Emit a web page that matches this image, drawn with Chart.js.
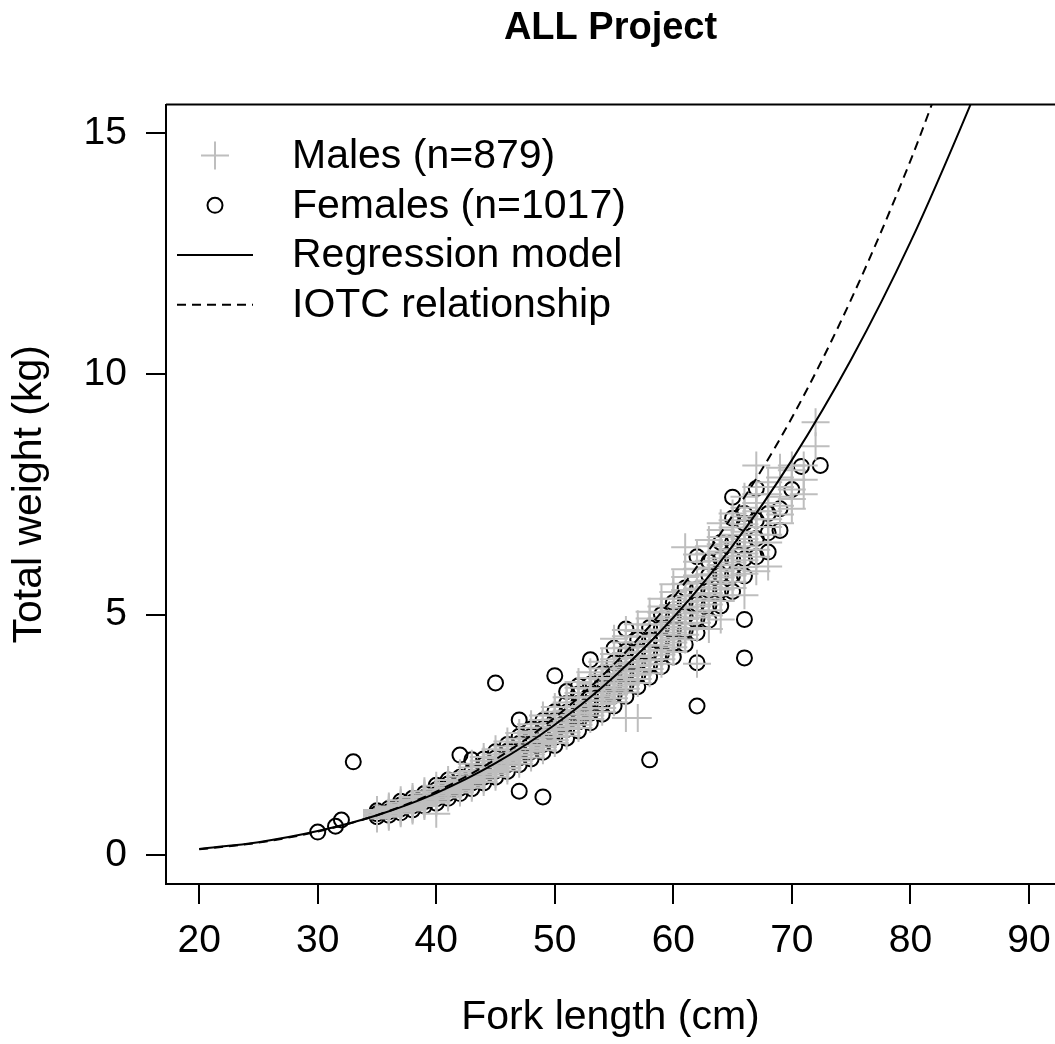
<!DOCTYPE html>
<html>
<head>
<meta charset="utf-8">
<script src="https://cdn.jsdelivr.net/npm/chart.js@4.4.1/dist/chart.umd.min.js"></script>
<style>
  html, body { margin: 0; padding: 0; background: #fff; overflow: hidden; }
  canvas { display: block; }
</style>
</head>
<body>
<canvas id="lwChart" width="1055" height="1044"></canvas>
<script>
// values
const xTicks = [20, 30, 40, 50, 60, 70, 80, 90];
const yTicks = [0, 5, 10, 15];

const legendLabels = ["Males (n=879)", "Females (n=1017)", "Regression model", "IOTC relationship"];

// regression curve (fork length cm, weight kg)
const regLen = [20, 25, 30, 35, 40, 45, 50, 55, 60, 65, 70, 75, 80, 85, 86];
const regWt = [0.13, 0.27, 0.50, 0.83, 1.29, 1.91, 2.71, 3.71, 4.94, 6.43, 8.21, 10.30, 12.74, 15.56, 16.17];

// IOTC curve
const iotcLen = [20, 25, 30, 35, 40, 45, 50, 55, 60, 65, 70, 75, 80, 83];
const iotcWt = [0.12, 0.26, 0.49, 0.83, 1.32, 1.99, 2.86, 3.97, 5.35, 7.06, 9.09, 11.55, 14.43, 16.40];

// males: one row of weights (kg) per fork length (cm)
const maleLen = [35, 36, 37, 38, 39, 40, 41, 42, 43, 44, 45, 46, 47, 48, 49, 50, 51, 52, 53, 54,
                 55, 56, 57, 58, 59, 60, 61, 62, 63, 64, 65, 66, 67, 68, 69, 70, 71, 72];
const maleWt = [
  [0.76,0.79,0.82,0.85,0.88,0.91,0.94],
  [0.80,0.83,0.86,0.89,0.92,0.95,0.98,1.01],
  [0.87,0.90,0.93,0.96,0.99,1.02,1.05,1.09,1.14],
  [0.93,0.96,0.99,1.02,1.05,1.08,1.12,1.16,1.21],
  [1.02,1.05,1.08,1.12,1.16,1.20,1.24,1.28,1.33],
  [0.86,1.09,1.12,1.16,1.20,1.24,1.28,1.32,1.37,1.44],
  [1.20,1.24,1.28,1.32,1.36,1.40,1.45,1.50,1.56],
  [1.30,1.34,1.38,1.42,1.47,1.52,1.57,1.63,1.70],
  [1.40,1.44,1.49,1.54,1.59,1.64,1.69,1.75,1.82,1.90],
  [1.52,1.57,1.62,1.67,1.72,1.77,1.83,1.89,1.96,2.04],
  [1.63,1.68,1.73,1.78,1.84,1.90,1.96,2.02,2.09,2.20],
  [1.76,1.81,1.87,1.93,1.99,2.05,2.11,2.18,2.26,2.36],
  [1.90,1.96,2.02,2.08,2.14,2.20,2.27,2.34,2.42,2.54],
  [2.03,2.09,2.15,2.21,2.28,2.35,2.42,2.49,2.57,2.65,2.72],
  [2.18,2.24,2.30,2.37,2.44,2.51,2.58,2.65,2.73,2.81,2.90],
  [2.33,2.39,2.46,2.53,2.60,2.67,2.74,2.82,2.90,2.98,3.08],
  [2.48,2.55,2.62,2.69,2.76,2.84,2.92,3.00,3.08,3.17,3.28],
  [2.64,2.71,2.78,2.86,2.94,3.02,3.10,3.18,3.27,3.37,3.48,3.60],
  [2.83,2.90,2.97,3.05,3.13,3.21,3.29,3.37,3.46,3.56,3.68,3.80],
  [2.98,3.06,3.14,3.22,3.30,3.38,3.47,3.56,3.65,3.75,3.88,4.02],
  [3.18,3.26,3.34,3.42,3.50,3.59,3.68,3.77,3.86,3.96,4.07,4.18,4.30,4.50],
  [2.85,3.38,3.46,3.54,3.63,3.72,3.81,3.90,4.00,4.10,4.20,4.31,4.42,4.55,4.68],
  [2.85,3.58,3.66,3.75,3.84,3.93,4.02,4.12,4.22,4.32,4.43,4.54,4.66,4.80],
  [3.78,3.87,3.96,4.05,4.15,4.25,4.35,4.45,4.56,4.67,4.79,4.92,5.06],
  [3.98,4.07,4.17,4.27,4.37,4.47,4.58,4.69,4.80,4.92,5.04,5.17,5.33],
  [4.22,4.32,4.42,4.52,4.63,4.74,4.85,4.96,5.08,5.20,5.33,5.47,5.63],
  [4.48,4.58,4.69,4.80,4.91,5.02,5.14,5.26,5.38,5.51,5.64,5.78,5.94,6.40],
  [3.98,4.72,4.83,4.94,5.05,5.17,5.29,5.41,5.54,5.67,5.81,5.95,6.10,6.25],
  [4.70,4.98,5.09,5.21,5.33,5.45,5.58,5.71,5.84,5.98,6.12,6.27,6.42,6.55],
  [4.90,5.28,5.40,5.52,5.64,5.77,5.90,6.03,6.17,6.31,6.46,6.61,6.76,6.90],
  [5.55,5.68,5.81,5.94,6.08,6.22,6.36,6.51,6.66,6.81,6.96,7.10],
  [5.40,5.85,5.99,6.13,6.27,6.42,6.57,6.72,6.88,7.04,7.22,7.45],
  [5.90,6.20,6.35,6.50,6.66,6.82,6.98,7.15,7.32,7.50,7.65,8.10],
  [6.00,6.50,6.66,6.82,6.98,7.15,7.32,7.50,7.75],
  [6.90,7.08,7.26,7.45,7.65,7.85,8.05],
  [7.20,7.40,7.60,7.80,8.00,8.10],
  [7.50,7.80,8.10],
  [8.50,9.00]
];

// females: one row of weights (kg) per fork length (cm)
const femaleLen = [30, 31.5, 32, 33, 35, 36, 37, 38, 39, 40, 41, 42, 43, 44, 45, 46, 47, 48, 49, 50,
                   51, 52, 53, 54, 55, 56, 57, 58, 59, 60, 61, 62, 63, 64, 65, 66, 67, 68, 69, 70, 70.8, 72.4];
const femaleWt = [
  [0.48], [0.60], [0.73], [1.94],
  [0.80,0.86,0.92],
  [0.83,0.90,0.97],
  [0.88,0.96,1.04,1.12],
  [0.94,1.02,1.10,1.18],
  [1.02,1.11,1.20,1.28],
  [1.08,1.17,1.26,1.36,1.45],
  [1.18,1.28,1.38,1.48,1.56],
  [1.28,1.39,1.50,1.62,2.08],
  [1.38,1.50,1.62,1.74,1.98],
  [1.50,1.62,1.75,1.88,2.00],
  [1.62,1.75,1.88,2.02,2.15,3.58],
  [1.74,1.88,2.02,2.16,2.30],
  [1.33,1.88,2.02,2.17,2.32,2.47,2.81],
  [2.00,2.15,2.31,2.47,2.62],
  [1.21,2.14,2.30,2.46,2.63,2.80],
  [2.28,2.45,2.62,2.80,2.98,3.73],
  [2.43,2.61,2.79,2.97,3.15,3.40],
  [2.58,2.77,2.96,3.15,3.35,3.52],
  [2.75,2.95,3.15,3.35,3.55,4.06],
  [2.93,3.14,3.35,3.56,3.77],
  [3.10,3.32,3.54,3.77,4.00,4.30],
  [3.30,3.53,3.76,4.00,4.24,4.70],
  [3.50,3.74,3.98,4.23,4.48],
  [1.98,3.70,3.95,4.21,4.47,4.73],
  [3.92,4.18,4.45,4.72,5.00],
  [4.12,4.40,4.68,4.96,5.25],
  [4.38,4.67,4.96,5.25,5.55],
  [3.10,4.00,4.62,4.92,5.22,5.52,6.20],
  [4.88,5.19,5.50,5.82,6.10],
  [5.18,5.50,5.83,6.16,6.50],
  [5.48,5.82,6.16,6.50,7.00,7.44],
  [4.10,4.90,5.80,6.16,6.52,6.90,7.10],
  [6.20,6.58,6.96,7.62],
  [6.30,6.70,7.10],
  [6.75,7.20],
  [7.60], [8.08], [8.10]
];

const FONT = "'Liberation Sans', Arial, sans-serif";
const GREY = "#bebebe";

function toXY(lens, wts) {
  return lens.map((l, i) => ({ x: l, y: wts[i] }));
}

function columnsToXY(lens, rows) {
  const pts = [];
  lens.forEach((l, i) => rows[i].forEach(w => pts.push({ x: l, y: w })));
  return pts;
}

// R style legend inside the plot, no box
const rLegend = {
  id: "rLegend",
  afterDraw(chart) {
    const ctx = chart.ctx;
    const area = chart.chartArea;
    const symX = area.left + 49;
    const txtX = area.left + 126;
    ctx.save();
    ctx.font = "41px " + FONT;
    ctx.textBaseline = "middle";
    ctx.textAlign = "left";
    legendLabels.forEach((lab, i) => {
      const y = area.top + 51 + i * 49.7;
      ctx.lineWidth = 2;
      ctx.setLineDash([]);
      if (i === 0) {
        ctx.strokeStyle = GREY;
        ctx.beginPath();
        ctx.moveTo(symX - 14, y); ctx.lineTo(symX + 14, y);
        ctx.moveTo(symX, y - 14); ctx.lineTo(symX, y + 14);
        ctx.stroke();
      } else if (i === 1) {
        ctx.strokeStyle = "#000";
        ctx.beginPath();
        ctx.arc(symX, y, 7.5, 0, Math.PI * 2);
        ctx.stroke();
      } else {
        ctx.strokeStyle = "#000";
        if (i === 3) ctx.setLineDash([9, 6]);
        ctx.beginPath();
        ctx.moveTo(symX - 38, y); ctx.lineTo(symX + 38, y);
        ctx.stroke();
        ctx.setLineDash([]);
      }
      ctx.fillStyle = "#000";
      ctx.fillText(lab, txtX, y + 1);
    });
    // top edge of the plot box
    ctx.strokeStyle = "#000";
    ctx.lineWidth = 2;
    ctx.beginPath();
    ctx.moveTo(area.left, area.top);
    ctx.lineTo(area.right, area.top);
    ctx.stroke();
    ctx.restore();
  }
};

new Chart("lwChart", {
  type: "scatter",
  data: {
    datasets: [
      {
        type: "line",
        label: legendLabels[2],
        data: toXY(regLen, regWt),
        borderColor: "#000",
        borderWidth: 2,
        pointRadius: 0,
        cubicInterpolationMode: "monotone",
        fill: false,
        order: 0
      },
      {
        type: "line",
        label: legendLabels[3],
        data: toXY(iotcLen, iotcWt),
        borderColor: "#000",
        borderWidth: 2,
        borderDash: [9, 6],
        pointRadius: 0,
        cubicInterpolationMode: "monotone",
        fill: false,
        order: 0
      },
      {
        label: legendLabels[0],
        data: columnsToXY(maleLen, maleWt),
        pointStyle: "cross",
        pointRadius: 14,
        borderColor: GREY,
        borderWidth: 2,
        order: 1
      },
      {
        label: legendLabels[1],
        data: columnsToXY(femaleLen, femaleWt),
        pointStyle: "circle",
        pointRadius: 7.5,
        borderColor: "#000",
        backgroundColor: "rgba(0,0,0,0)",
        borderWidth: 2,
        order: 2
      }
    ]
  },
  options: {
    responsive: false,
    animation: false,
    events: [],
    layout: { padding: 0, autoPadding: false },
    plugins: {
      legend: { display: false },
      tooltip: { enabled: false },
      title: {
        display: true,
        text: "ALL Project",
        fullSize: false,
        color: "#000",
        font: { family: FONT, size: 38, weight: "bold" },
        padding: { top: 6, bottom: 53 }
      }
    },
    scales: {
      x: {
        type: "linear",
        min: 17.2,
        max: 92.2,
        afterFit(scale) {
          scale.height = 160;
          scale.paddingLeft = 0;
          scale.paddingRight = 0;
        },
        afterBuildTicks(scale) { scale.ticks = xTicks.map(v => ({ value: v })); },
        border: { display: true, color: "#000", width: 2 },
        grid: { drawOnChartArea: false, drawTicks: true, tickLength: 20, color: "#000", lineWidth: 2 },
        ticks: { color: "#000", padding: 14, font: { family: FONT, size: 39 } },
        title: {
          display: true,
          text: "Fork length (cm)",
          color: "#000",
          font: { family: FONT, size: 41 },
          padding: { top: 0, bottom: 2 }
        }
      },
      y: {
        type: "linear",
        min: -0.6,
        max: 15.6,
        afterFit(scale) { scale.width = 166; },
        afterBuildTicks(scale) { scale.ticks = yTicks.map(v => ({ value: v })); },
        border: { display: true, color: "#000", width: 2 },
        grid: { drawOnChartArea: false, drawTicks: true, tickLength: 20, color: "#000", lineWidth: 2 },
        ticks: { color: "#000", padding: 19, font: { family: FONT, size: 39 } },
        title: {
          display: true,
          text: "Total weight (kg)",
          color: "#000",
          font: { family: FONT, size: 41 },
          padding: { top: 5, bottom: 0 }
        }
      }
    }
  },
  plugins: [rLegend]
});
</script>
</body>
</html>
